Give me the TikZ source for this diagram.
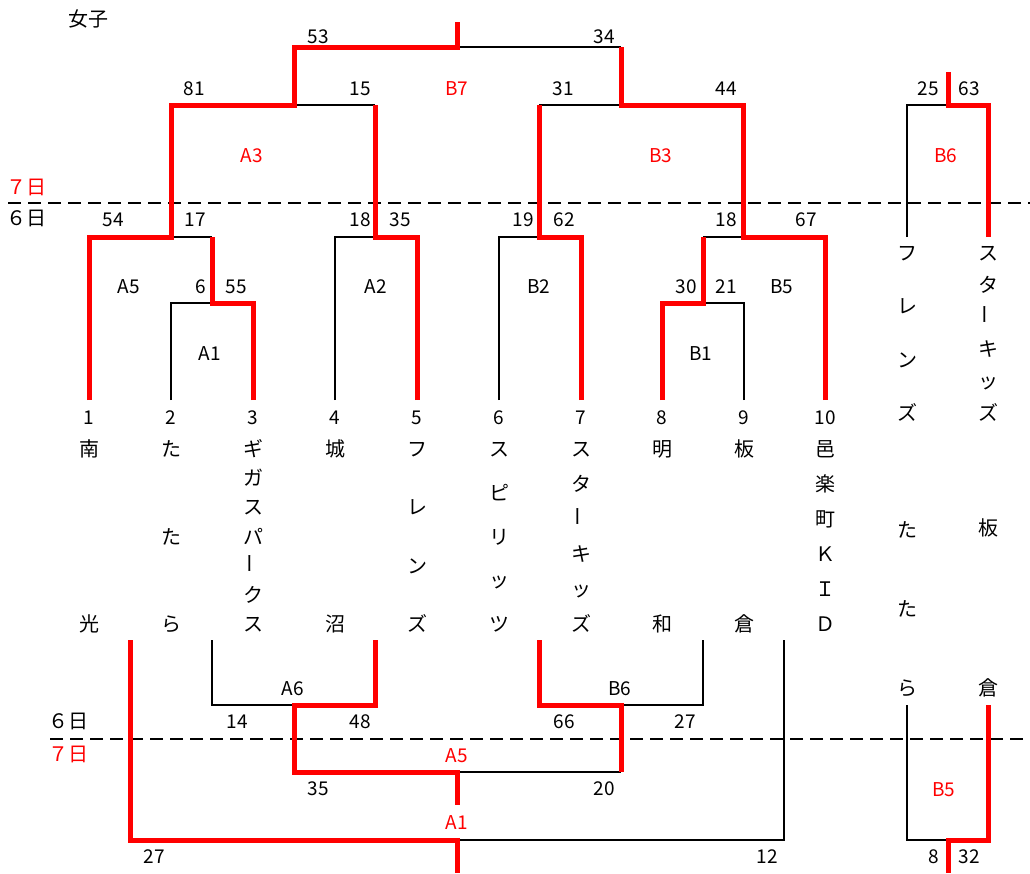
\documentclass[tikz,border=0pt]{standalone}
\usepackage{fontspec}
\setmainfont{Noto Sans CJK JP}
\usepackage{graphicx}
\newcommand\vbar{\rotatebox{90}{ー}}
\newcommand\vname[6]{\foreach \ch [count=\i] in {#6}{\node[cjk] (#1-\i) at ({#2},{#3+(\i-1)*(#4-#3)/(#5-1)}) {\ch};}}
\begin{document}
\begin{tikzpicture}[x=1pt,y=-1pt,
  lbl/.style={inner sep=0pt,font=\fontsize{19}{21}\selectfont,text height=14.4pt,text depth=0pt},
  rlbl/.style={lbl,text=red},
  cjk/.style={inner sep=0pt,font=\fontsize{20}{22}\selectfont,text height=15.2pt,text depth=0pt},
  rcjk/.style={cjk,text=red},
  win/.style={draw=red,line width=5pt,line join=miter},
  lose/.style={draw=black,line width=1.3pt},
  day/.style={draw=black,line width=1.3pt,dash pattern=on 13pt off 7pt}]
\useasboundingbox (0,0) rectangle (1030,873);

% day separators
\draw[day] (8,203) -- (1030,203);
\draw[day] (50,739) -- (1030,739);

% losing (black) lines - top
\draw[lose] (171,400) |- (212,303);
\draw[lose] (171,237) -- (212,237);
\draw[lose] (335,400) |- (375,237);
\draw[lose] (294,105) -- (375,105);
\draw[lose] (457,47) -- (621,47);
\draw[lose] (499,400) |- (539,237);
\draw[lose] (744,400) |- (703,303);
\draw[lose] (703,237) -- (744,237);
\draw[lose] (539,105) -- (621,105);
\draw[lose] (907,237) |- (948,105);
% losing (black) lines - bottom
\draw[lose] (212,640) |- (294,705);
\draw[lose] (703,640) |- (621,705);
\draw[lose] (457,772) -- (621,772);
\draw[lose] (457,840) -| (784,640);
\draw[lose] (907,705) |- (948,840);

% winning (red) lines - top
\draw[win] (89,400) |- (171,237) |- (294,105) |- (457,47) -- (457,22);
\draw[win] (253,400) |- (212,303) -- (212,237);
\draw[win] (417,400) |- (375,237) -- (375,105);
\draw[win] (581,400) |- (539,237) -- (539,105);
\draw[win] (662,400) |- (703,303) -- (703,237);
\draw[win] (825,400) |- (743,237) |- (621,105) -- (621,47);
\draw[win] (988,237) |- (948,105) -- (948,72);
% winning (red) lines - bottom
\draw[win] (130,640) |- (457,840) -- (457,873);
\draw[win] (375,640) |- (294,705) |- (457,772) -- (457,805);
\draw[win] (539,640) |- (621,705) -- (621,772);
\draw[win] (988,705) |- (948,840) -- (948,873);

% title and day labels
\node[cjk] (title) at (88,19) {女子};
\node[rcjk] (d7a) at (26,187) {７日};
\node[cjk] (d6a) at (26,218) {６日};
\node[cjk] (d6b) at (68,721) {６日};
\node[rcjk] (d7b) at (68,754) {７日};

% scores top
\node[lbl] (s1) at (318,36) {53};
\node[lbl] (s2) at (604,36) {34};
\node[lbl] (s3) at (194,88) {81};
\node[lbl] (s4) at (360,88) {15};
\node[rlbl] (mB7) at (457,88) {B7};
\node[lbl] (s5) at (563,88) {31};
\node[lbl] (s6) at (726,88) {44};
\node[lbl] (s7) at (928,88) {25};
\node[lbl] (s8) at (969,88) {63};
\node[rlbl] (mA3) at (252,155) {A3};
\node[rlbl] (mB3) at (661,155) {B3};
\node[rlbl] (mB6t) at (946,155) {B6};
\node[lbl] (s9) at (113,219) {54};
\node[lbl] (s10) at (195,219) {17};
\node[lbl] (s11) at (360,219) {18};
\node[lbl] (s12) at (400,219) {35};
\node[lbl] (s13) at (523,219) {19};
\node[lbl] (s14) at (564,219) {62};
\node[lbl] (s15) at (726,219) {18};
\node[lbl] (s16) at (806,219) {67};
\node[lbl] (mA5) at (129,286) {A5};
\node[lbl] (s17) at (201,286) {6};
\node[lbl] (s18) at (236,286) {55};
\node[lbl] (mA2) at (376,286) {A2};
\node[lbl] (mB2) at (539,286) {B2};
\node[lbl] (s19) at (686,286) {30};
\node[lbl] (s20) at (726,286) {21};
\node[lbl] (mB5) at (782,286) {B5};
\node[lbl] (mA1) at (210,353) {A1};
\node[lbl] (mB1) at (701,353) {B1};

% team numbers
\foreach \n/\x in {1/89,2/171,3/253,4/335,5/417,6/499,7/581,8/662,9/744,10/825}
  \node[lbl] (num\n) at (\x,417) {\n};

% team names
\vname{t1}{89}{449}{624}{2}{南,光}
\vname{t2}{171}{449}{624}{3}{た,た,ら}
\vname{t3}{253}{449}{624}{7}{ギ,ガ,ス,パ,\vbar,ク,ス}
\vname{t4}{335}{449}{624}{2}{城,沼}
\vname{t5}{417}{449}{624}{4}{フ,レ,ン,ズ}
\vname{t6}{499}{449}{624}{5}{ス,ピ,リ,ッ,ツ}
\vname{t7}{581}{449}{624}{6}{ス,タ,\vbar,キ,ッ,ズ}
\vname{t8}{662}{449}{624}{2}{明,和}
\vname{t9}{744}{449}{624}{2}{板,倉}
\vname{t10}{825}{449}{624}{6}{邑,楽,町,Ｋ,Ｉ,Ｄ}
\vname{t11a}{907}{253}{413}{4}{フ,レ,ン,ズ}
\vname{t12a}{988}{253}{413}{6}{ス,タ,\vbar,キ,ッ,ズ}
\vname{t11b}{907}{530}{688}{3}{た,た,ら}
\vname{t12b}{988}{528}{688}{2}{板,倉}

% scores bottom
\node[lbl] (mA6) at (293,688) {A6};
\node[lbl] (mB6) at (620,688) {B6};
\node[lbl] (s21) at (237,721) {14};
\node[lbl] (s22) at (360,721) {48};
\node[lbl] (s23) at (564,721) {66};
\node[lbl] (s24) at (685,721) {27};
\node[rlbl] (mA5b) at (457,755) {A5};
\node[lbl] (s25) at (318,788) {35};
\node[lbl] (s26) at (604,788) {20};
\node[rlbl] (mB5b) at (944,789) {B5};
\node[rlbl] (mA1b) at (457,822) {A1};
\node[lbl] (s27) at (154,856) {27};
\node[lbl] (s28) at (767,856) {12};
\node[lbl] (s29) at (934,856) {8};
\node[lbl] (s30) at (969,856) {32};
\end{tikzpicture}
\end{document}
